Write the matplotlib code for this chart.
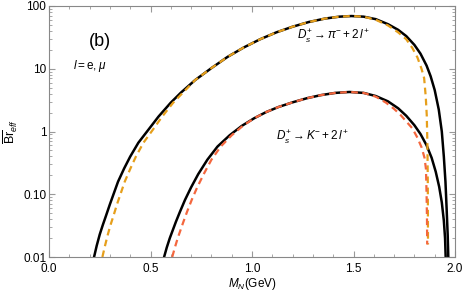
import numpy as np
import matplotlib
matplotlib.use("Agg")
import matplotlib.pyplot as plt

plt.rcParams["font.family"] = ["Liberation Sans", "DejaVu Sans"]
plt.rcParams["mathtext.fontset"] = "custom"
plt.rcParams["mathtext.rm"] = "Liberation Sans"
plt.rcParams["mathtext.it"] = "Liberation Sans:italic"
plt.rcParams["mathtext.bf"] = "Liberation Sans:bold"

# curve points: M_N (GeV) and log10(Br_eff)
pi_m = [0.222, 0.235, 0.25, 0.265, 0.28, 0.30, 0.32, 0.34, 0.37, 0.40, 0.44, 0.49, 0.54, 0.60,
        0.65, 0.72, 0.80, 0.88, 0.96, 1.04, 1.12, 1.20, 1.28, 1.36, 1.43, 1.49, 1.55, 1.61,
        1.67, 1.72, 1.76, 1.80, 1.83, 1.86, 1.88, 1.90, 1.92, 1.935, 1.945, 1.953, 1.959,
        1.964, 1.967]
pi_log = [-2.0, -1.82, -1.64, -1.49, -1.35, -1.16, -0.98, -0.80, -0.59, -0.40, -0.18, 0.03,
          0.24, 0.46, 0.62, 0.82, 1.01, 1.19, 1.34, 1.47, 1.58, 1.67, 1.745, 1.80, 1.83, 1.84,
          1.83, 1.79, 1.71, 1.62, 1.52, 1.38, 1.24, 1.05, 0.88, 0.66, 0.35, 0.0, -0.40, -0.80,
          -1.25, -1.65, -2.0]

pi_dash_m = [0.263, 0.276, 0.29, 0.303, 0.317, 0.335, 0.354, 0.373, 0.401, 0.428, 0.465, 0.512,
             0.558, 0.612, 0.66, 0.72, 0.80, 0.88, 0.96, 1.04, 1.12, 1.20, 1.28, 1.36, 1.43,
             1.49, 1.55, 1.61, 1.67, 1.72, 1.76, 1.79, 1.815, 1.835, 1.848, 1.856, 1.861,
             1.864, 1.866, 1.867]
pi_dash_log = [-2.0, -1.82, -1.64, -1.49, -1.35, -1.16, -0.98, -0.80, -0.59, -0.40, -0.18, 0.03,
               0.24, 0.46, 0.62, 0.82, 1.01, 1.19, 1.34, 1.47, 1.58, 1.67, 1.745, 1.80, 1.83,
               1.84, 1.83, 1.78, 1.69, 1.58, 1.47, 1.33, 1.18, 1.0, 0.85, 0.55, 0.25, -0.2,
               -0.8, -1.8]

k_m = [0.567, 0.58, 0.595, 0.61, 0.625, 0.645, 0.67, 0.70, 0.735, 0.78, 0.83, 0.89, 0.95, 1.01,
       1.07, 1.13, 1.20, 1.27, 1.34, 1.41, 1.48, 1.55, 1.61, 1.67, 1.72, 1.76, 1.80, 1.83,
       1.86, 1.885, 1.905, 1.922, 1.935, 1.945, 1.951, 1.954]
k_log = [-2.0, -1.85, -1.70, -1.57, -1.44, -1.28, -1.09, -0.89, -0.68, -0.45, -0.24, -0.06,
         0.09, 0.21, 0.31, 0.39, 0.465, 0.53, 0.58, 0.615, 0.63, 0.615, 0.565, 0.48, 0.37,
         0.25, 0.10, -0.04, -0.22, -0.42, -0.64, -0.88, -1.13, -1.42, -1.70, -2.0]

k_dash_m = [0.607, 0.62, 0.634, 0.648, 0.662, 0.68, 0.703, 0.73, 0.762, 0.80, 0.846, 0.90,
            0.955, 1.01, 1.07, 1.13, 1.20, 1.27, 1.34, 1.41, 1.48, 1.55, 1.61, 1.66, 1.70,
            1.73, 1.76, 1.79, 1.815, 1.835, 1.85, 1.857, 1.86, 1.862, 1.863]
k_dash_log = [-2.0, -1.85, -1.70, -1.57, -1.44, -1.28, -1.09, -0.89, -0.68, -0.45, -0.24,
              -0.06, 0.09, 0.21, 0.31, 0.39, 0.465, 0.53, 0.58, 0.615, 0.63, 0.615, 0.555,
              0.46, 0.36, 0.27, 0.16, 0.05, -0.10, -0.25, -0.42, -0.6, -1.0, -1.4, -1.80]

xticks = [0.0, 0.5, 1.0, 1.5, 2.0]
yticks = [0.01, 0.1, 1, 10, 100]
ytick_labels = ["0.01", "0.10", "1", "10", "100"]

fig = plt.figure(figsize=(4.63, 2.95), dpi=100)
ax = fig.add_axes([49 / 463, 1 - 257 / 295, 406 / 463, 251 / 295])

ax.plot(pi_m, 10 ** np.array(pi_log), color="black", lw=1.8)
ax.plot(k_m, 10 ** np.array(k_log), color="black", lw=1.8)
ax.plot(pi_dash_m, 10 ** np.array(pi_dash_log), color="#e69f1b", lw=1.6, ls=(0, (3, 2)))
ax.plot(k_dash_m, 10 ** np.array(k_dash_log), color="#f4673e", lw=1.6, ls=(0, (3, 2)))

ax.set_yscale("log")
ax.set_xlim(0, 2.0)
ax.set_ylim(0.01, 100)
ax.set_xticks(xticks)
ax.set_xticklabels([f"{t:.1f}" for t in xticks])
ax.set_xticks(np.arange(0, 2.01, 0.1), minor=True)
ax.set_yticks(yticks)
ax.set_yticklabels(ytick_labels)

for s in ax.spines.values():
    s.set_color("#888888")
    s.set_linewidth(0.8)
ax.tick_params(which="both", direction="in", top=True, right=True, color="#999999",
               labelsize=8.5)
ax.tick_params(axis="x", pad=4)
ax.tick_params(axis="y", pad=2)
ax.tick_params(which="major", length=4)
ax.tick_params(which="minor", length=2)

ax.set_xlabel("$M_N$(GeV)", fontsize=8.5, labelpad=1)
ax.set_ylabel(r"$\overline{\mathrm{Br}}_{eff}$", fontsize=9, labelpad=2)

ax.text(0.125, 0.86, "(b)", transform=ax.transAxes, fontsize=13, ha="center", va="center")
ax.text(0.06, 0.76, r"$l=\mathrm{e},\mu$", transform=ax.transAxes, fontsize=8.5, va="center")
ax.text(0.61, 0.88, r"$D_s^{+}\rightarrow\pi^{-}+2\,l^{+}$", transform=ax.transAxes,
        fontsize=8.5, va="center")
ax.text(0.56, 0.475, r"$D_s^{+}\rightarrow K^{-}+2\,l^{+}$", transform=ax.transAxes,
        fontsize=8.5, va="center")

fig.savefig("out.png", dpi=100)
